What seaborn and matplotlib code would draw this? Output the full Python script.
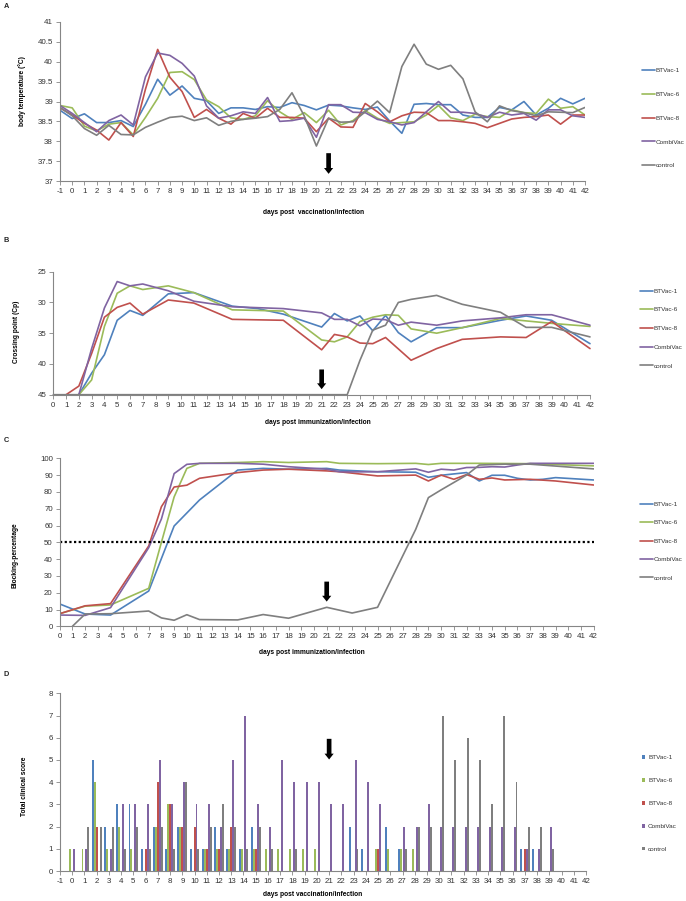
import matplotlib
matplotlib.use("Agg")
import matplotlib.pyplot as plt
from matplotlib import font_manager as fm
import numpy as np
import pandas as pd
import seaborn as sns

# ---------------- data ----------------
groups = ["BTVac-1", "BTVac-6", "BTVac-8", "CombiVac", "control"]
colors = ["#4F81BD", "#9BBB59", "#C0504D", "#8064A2", "#7F7F7F"]

# Panel A: body temperature, days -1..42
days_A = list(range(-1, 43))
temp_btvac1 = [38.78, 38.57, 38.69, 38.47, 38.47, 38.52, 38.37, 38.93, 39.56, 39.16, 39.39, 39.08, 39.02, 38.70,
               38.84, 38.84, 38.80, 38.87, 38.85, 38.97, 38.90, 38.79, 38.91, 38.89, 38.84, 38.80, 38.86, 38.51,
               38.20, 38.93, 38.95, 38.92, 38.92, 38.66, 38.60, 38.60, 38.85, 38.79, 39.00, 38.66, 38.83, 39.08,
               38.94, 39.08]
temp_btvac6 = [38.90, 38.84, 38.38, 38.26, 38.43, 38.47, 38.16, 38.60, 39.08, 39.73, 39.75, 39.55, 39.04, 38.87,
               38.59, 38.55, 38.64, 39.02, 38.74, 38.55, 38.72, 38.47, 38.78, 38.41, 38.52, 38.77, 38.58, 38.45,
               38.47, 38.49, 38.66, 38.90, 38.59, 38.52, 38.68, 38.62, 38.60, 38.79, 38.72, 38.70, 39.06, 38.83,
               38.87, 38.66]
temp_btvac8 = [38.84, 38.66, 38.45, 38.28, 38.03, 38.47, 38.12, 39.31, 40.31, 39.61, 39.25, 38.60, 38.80, 38.58,
               38.43, 38.70, 38.58, 38.83, 38.60, 38.60, 38.58, 38.24, 38.58, 38.36, 38.35, 38.95, 38.74, 38.49,
               38.64, 38.73, 38.72, 38.52, 38.52, 38.49, 38.45, 38.34, 38.45, 38.56, 38.60, 38.62, 38.66, 38.43,
               38.66, 38.66]
temp_combivac = [38.90, 38.70, 38.47, 38.24, 38.52, 38.66, 38.41, 39.62, 40.22, 40.16, 39.96, 39.64, 38.89, 38.58,
                 38.64, 38.74, 38.70, 39.10, 38.50, 38.52, 38.58, 38.10, 38.92, 38.92, 38.73, 38.72, 38.55, 38.49,
                 38.41, 38.47, 38.74, 39.00, 38.73, 38.73, 38.70, 38.60, 38.73, 38.66, 38.70, 38.53, 38.79, 38.79,
                 38.64, 38.60]
temp_control = [38.85, 38.64, 38.32, 38.15, 38.40, 38.17, 38.16, 38.35, 38.48, 38.60, 38.63, 38.52, 38.59, 38.40,
                38.50, 38.55, 38.58, 38.62, 38.80, 39.22, 38.64, 37.88, 38.58, 38.48, 38.49, 38.74, 39.01, 38.72,
                39.88, 40.44, 39.94, 39.81, 39.91, 39.57, 38.74, 38.49, 38.89, 38.77, 38.72, 38.64, 38.74, 38.73,
                38.72, 38.85]

# Panel B: crossing point (Cp)
cp_days_btvac1 = [2, 3, 4, 5, 6, 7, 9, 11, 14, 16, 18, 21, 22, 23, 24, 25, 26, 27, 28, 30, 32, 35, 37, 39, 42]
cp_btvac1 = [45, 41.5, 38.5, 32.9, 31.3, 32.1, 28.6, 28.4, 30.6, 31.0, 31.9, 34.0, 31.8, 33.0, 32.2, 34.6, 32.1,
             34.9, 36.4, 34.1, 34.1, 32.9, 32.2, 32.9, 36.7]
cp_days_btvac6 = [2, 3, 4, 5, 6, 7, 8, 9, 11, 14, 18, 21, 22, 23, 24, 25, 26, 27, 28, 30, 32, 35, 37, 39, 42]
cp_btvac6 = [45, 42.6, 33.9, 28.5, 27.3, 27.9, 27.6, 27.3, 28.4, 31.2, 31.4, 36.1, 36.4, 35.6, 33.1, 32.4, 32.0,
             32.1, 34.3, 35.0, 34.1, 32.6, 33.0, 33.4, 33.9]
cp_days_btvac8 = [1, 2, 3, 4, 5, 6, 7, 9, 11, 14, 18, 21, 22, 23, 24, 25, 26, 28, 30, 32, 35, 37, 39, 42]
cp_btvac8 = [45, 43.6, 38.3, 32.4, 30.8, 30.1, 31.9, 29.6, 30.1, 32.75, 32.9, 37.7, 35.2, 35.6, 36.6, 36.7, 35.7,
             39.4, 37.5, 36.0, 35.6, 35.7, 33.1, 37.5]
cp_days_combivac = [2, 3, 4, 5, 6, 7, 9, 11, 14, 18, 21, 22, 23, 24, 25, 26, 27, 28, 30, 32, 35, 37, 39, 42]
cp_combivac = [45, 37.5, 30.9, 26.6, 27.3, 27.0, 28.1, 29.8, 30.7, 31.0, 31.7, 32.75, 32.75, 33.8, 32.7, 32.8,
               33.7, 33.2, 33.7, 33.0, 32.5, 32.0, 32.0, 33.7]
cp_days_control = [0, 23, 24, 25, 26, 27, 28, 30, 32, 35, 37, 39, 42]
cp_control = [45, 45, 39.4, 34.5, 33.7, 30.0, 29.5, 28.85, 30.3, 31.6, 34.05, 34.05, 35.6]

# Panel C: blocking percentage
bl_days_btvac1 = [0, 2, 4, 7, 9, 11, 14, 16, 18, 21, 22, 25, 28, 29, 30, 32, 33, 34, 35, 36, 37, 38, 39, 42]
bl_btvac1 = [13.3, 7.3, 6.7, 21, 59.7, 75.2, 93, 94, 93.5, 94, 93, 92, 91.7, 88.7, 89.9, 91.5, 86.5, 89.9, 89.9,
             88.1, 87.1, 87.5, 88.5, 87.1]
bl_days_btvac6 = [0, 2, 4, 7, 8, 9, 10, 11, 14, 16, 18, 21, 22, 25, 28, 29, 30, 33, 37, 42]
bl_btvac6 = [7.5, 12, 12.7, 22.6, 50, 77, 94, 97, 97.5, 98, 97.5, 98, 97, 96.8, 97, 96.3, 97, 97, 96.8, 95.5]
bl_days_btvac8 = [0, 2, 4, 7, 8, 9, 10, 11, 14, 16, 18, 21, 22, 25, 28, 29, 30, 31, 32, 33, 34, 35, 37, 39, 42]
bl_btvac8 = [7.5, 12.2, 13.5, 47.8, 71.2, 82.9, 84, 88.1, 91.5, 93, 93.5, 92.5, 92, 89.5, 90, 86.5, 90, 87.5,
             90.3, 87.5, 88.3, 87.1, 87.5, 86.5, 84.1]
bl_days_combivac = [0, 2, 4, 7, 8, 9, 10, 11, 14, 16, 18, 21, 22, 23, 25, 28, 29, 30, 31, 32, 33, 34, 35, 36, 37, 42]
bl_combivac = [6.7, 6.5, 11.1, 46.8, 63.9, 90.9, 96.4, 97, 97, 96.5, 95, 93.5, 92, 91.9, 92, 93.7, 91.7, 93.5, 93,
               94.5, 94.6, 95, 94.8, 96, 97, 97]
bl_days_control = [1, 2, 4, 7, 8, 9, 10, 11, 14, 16, 18, 21, 23, 25, 28, 29, 30, 32, 33, 35, 37, 42]
bl_control = [0, 7.3, 7.5, 9.1, 5, 3.6, 6.9, 4, 3.8, 7, 4.8, 11.3, 7.9, 11.3, 57.7, 76.6, 81.2, 90, 96, 96.5,
              96.5, 93.7]
bl_threshold = 50

# Panel D: total clinical score, days -1..42
days_D = list(range(-1, 43))
score_btvac1 = [0, 0, 0, 5, 2, 3, 3, 1, 2, 1, 2, 1, 1, 2, 1, 1, 2, 0, 0, 0, 0, 0, 0, 0, 2, 1, 0, 2, 1, 0, 0, 0, 0,
                0, 0, 0, 0, 0, 1, 1, 0, 0, 0, 0]
score_btvac6 = [0, 1, 1, 4, 1, 2, 1, 0, 2, 3, 2, 0, 1, 1, 1, 1, 1, 1, 1, 1, 1, 1, 0, 0, 0, 0, 1, 1, 1, 1, 0, 0, 0,
                0, 0, 0, 0, 0, 0, 0, 0, 0, 0, 0]
score_btvac8 = [0, 0, 0, 2, 0, 0, 0, 1, 4, 3, 2, 2, 1, 1, 2, 0, 1, 0, 0, 0, 0, 0, 0, 0, 0, 0, 1, 0, 0, 0, 0, 0, 0,
                0, 0, 0, 0, 0, 1, 0, 0, 0, 0, 0]
score_combivac = [0, 1, 1, 0, 1, 3, 3, 3, 5, 3, 4, 3, 3, 2, 5, 7, 3, 2, 5, 4, 4, 4, 3, 3, 5, 4, 3, 0, 2, 2, 3, 2,
                  2, 2, 2, 2, 2, 2, 1, 1, 2, 0, 0, 0]
score_control = [0, 0, 2, 2, 2, 1, 2, 1, 2, 1, 4, 1, 2, 3, 2, 1, 2, 1, 0, 1, 0, 0, 0, 0, 1, 0, 0, 0, 1, 2, 2, 7,
                 5, 6, 5, 3, 7, 4, 2, 2, 1, 0, 0, 0]

challenge_day = 21

# ---------------- fonts ----------------
_names = {f.name for f in fm.fontManager.ttflist}
if "Liberation Sans Narrow" in _names:
    FONT, SCALE = "Liberation Sans Narrow", 1.0
elif "DejaVu Sans Condensed" in _names:
    FONT, SCALE = "DejaVu Sans Condensed", 0.92
elif "Liberation Sans" in _names:
    FONT, SCALE = "Liberation Sans", 0.86
else:
    FONT, SCALE = "DejaVu Sans", 0.78

# ---------------- figure ----------------
W, H = 686, 901
sns.set_theme(style="white")
plt.rcParams["font.family"] = [FONT, "DejaVu Sans"]
plt.rcParams["axes.unicode_minus"] = False
fig = plt.figure(figsize=(W / 100, H / 100), dpi=100)

AX_COL = "#868686"
TXT_COL = "#333333"
FS_TICK = 6.6 * SCALE
FS_LAB = 5.6 * SCALE
FS_LEG = 5.3 * SCALE


def add_axes(l, t, r, b):
    ax = fig.add_axes([l / W, 1 - b / H, (r - l) / W, (b - t) / H])
    ax.set_facecolor("white")
    return ax, (l, t, r, b)


def style(ax):
    for s in ["top", "right"]:
        ax.spines[s].set_visible(False)
    for s in ["left", "bottom"]:
        ax.spines[s].set_color(AX_COL)
        ax.spines[s].set_linewidth(0.8)
    ax.tick_params(axis="both", direction="out", length=3, width=0.6, color=AX_COL,
                   labelsize=FS_TICK, labelcolor=TXT_COL, pad=2, left=True, bottom=True)
    ax.grid(False)


def labels(ax, box, xl, xpos, yl, ypos):
    l, t, r, b = box
    ax.set_xlabel(xl, fontsize=FS_LAB, fontweight="bold", color="black", va="center", ha="center")
    ax.xaxis.set_label_coords((xpos[0] - l) / (r - l), (b - xpos[1]) / (b - t))
    ax.set_ylabel(yl, fontsize=FS_LAB, fontweight="bold", color="black", va="center", ha="center")
    ax.yaxis.set_label_coords((ypos[0] - l) / (r - l), (b - ypos[1]) / (b - t))


def legend(ax, x, y, spacing, square=False):
    h, lab = ax.get_legend_handles_labels()
    if ax.get_legend() is not None:
        ax.get_legend().remove()
    kw = dict(loc="center left", bbox_to_anchor=(x / W, 1 - y / H), bbox_transform=fig.transFigure,
              frameon=False, fontsize=FS_LEG, borderpad=0, borderaxespad=0, labelspacing=spacing,
              labelcolor=TXT_COL)
    if square:
        kw.update(handlelength=0.55, handleheight=0.55, handletextpad=0.4)
    else:
        kw.update(handlelength=2.0, handletextpad=0.15)
    ax.legend(h, lab, **kw)


def arrow(ax, x, tail, tip):
    ax.annotate("", xy=(x, tip), xytext=(x, tail),
                arrowprops=dict(arrowstyle="simple,head_length=0.35,head_width=0.55,tail_width=0.28",
                                fc="black", ec="black", lw=0, shrinkA=0, shrinkB=0, mutation_scale=12))


def long_df(days_list, vals_list):
    frames = []
    for g, d, v in zip(groups, days_list, vals_list):
        frames.append(pd.DataFrame({"day": d, "value": v, "group": g}))
    return pd.concat(frames, ignore_index=True)


for txt, y in zip(["A", "B", "C", "D"], [7, 241, 441, 675]):
    fig.text(4 / W, 1 - y / H, txt, fontsize=6.2 * SCALE, fontweight="bold", va="center", ha="left")

# ---- Panel A ----
axA, boxA = add_axes(60, 22, 585, 181)
dfA = long_df([days_A] * 5, [temp_btvac1, temp_btvac6, temp_btvac8, temp_combivac, temp_control])
sns.lineplot(data=dfA, x="day", y="value", hue="group", hue_order=groups, palette=colors,
             errorbar=None, linewidth=1.2, ax=axA)
style(axA)
axA.set_xlim(-1, 42)
axA.set_ylim(37, 41)
axA.set_xticks(days_A)
axA.set_yticks(np.arange(37, 41.01, 0.5))
axA.set_yticklabels([f"{v:g}" for v in np.arange(37, 41.01, 0.5)])
labels(axA, boxA, "days post  vaccination/infection", (314, 213), "body temperature (°C)", (22, 91))
arrow(axA, challenge_day, 37.70, 37.18)
legend(axA, 642, 118, 2.9)

# ---- Panel B ----
axB, boxB = add_axes(53.3, 271.7, 590, 394.7)
dfB = long_df([cp_days_btvac1, cp_days_btvac6, cp_days_btvac8, cp_days_combivac, cp_days_control],
              [cp_btvac1, cp_btvac6, cp_btvac8, cp_combivac, cp_control])
sns.lineplot(data=dfB, x="day", y="value", hue="group", hue_order=groups, palette=colors,
             errorbar=None, linewidth=1.2, ax=axB)
for ln in axB.lines:
    ln.set_clip_on(False)
style(axB)
axB.set_xlim(0, 42)
axB.set_ylim(45, 25)
axB.set_xticks(range(0, 43))
axB.set_yticks([25, 30, 35, 40, 45])
labels(axB, boxB, "days post immunization/infection", (318, 422), "Crossing point (Cp)", (17, 332))
arrow(axB, challenge_day, 40.9, 44.1)
legend(axB, 640, 328.5, 2.1)

# ---- Panel C ----
axC, boxC = add_axes(59.7, 458.3, 593.7, 626.3)
dfC = long_df([bl_days_btvac1, bl_days_btvac6, bl_days_btvac8, bl_days_combivac, bl_days_control],
              [bl_btvac1, bl_btvac6, bl_btvac8, bl_combivac, bl_control])
sns.lineplot(data=dfC, x="day", y="value", hue="group", hue_order=groups, palette=colors,
             errorbar=None, linewidth=1.2, ax=axC)
style(axC)
axC.axhline(bl_threshold, color="black", linestyle=(0, (1, 1.1)), linewidth=1.6)
axC.set_xlim(0, 42)
axC.set_ylim(0, 100)
axC.set_xticks(range(0, 43))
axC.set_yticks(range(0, 101, 10))
labels(axC, boxC, "days post immunization/infection", (312, 652), "Blocking-percentage", (15, 555))
arrow(axC, challenge_day, 26.6, 14.7)
legend(axC, 640, 541, 2.05)

# ---- Panel D ----
axD, boxD = add_axes(60, 693.3, 586, 871)
dfD = pd.concat([pd.DataFrame({"day": days_D, "score": s, "group": g})
                 for g, s in zip(groups, [score_btvac1, score_btvac6, score_btvac8, score_combivac, score_control])],
                ignore_index=True)
sns.barplot(data=dfD, x="day", y="score", hue="group", hue_order=groups, palette=colors,
            native_scale=True, errorbar=None, width=0.8, linewidth=0, saturation=1, ax=axD)
style(axD)
axD.set_xlim(-1, 42)
axD.set_ylim(0, 8)
axD.set_xticks(days_D)
axD.set_yticks(range(0, 9))
labels(axD, boxD, "days post vaccination/infection", (313, 894), "Total clinical score", (25, 786))
arrow(axD, challenge_day, 5.95, 5.02)
legend(axD, 642, 803.5, 2.8, square=True)

fig.savefig("out.png", dpi=100, facecolor="white")
